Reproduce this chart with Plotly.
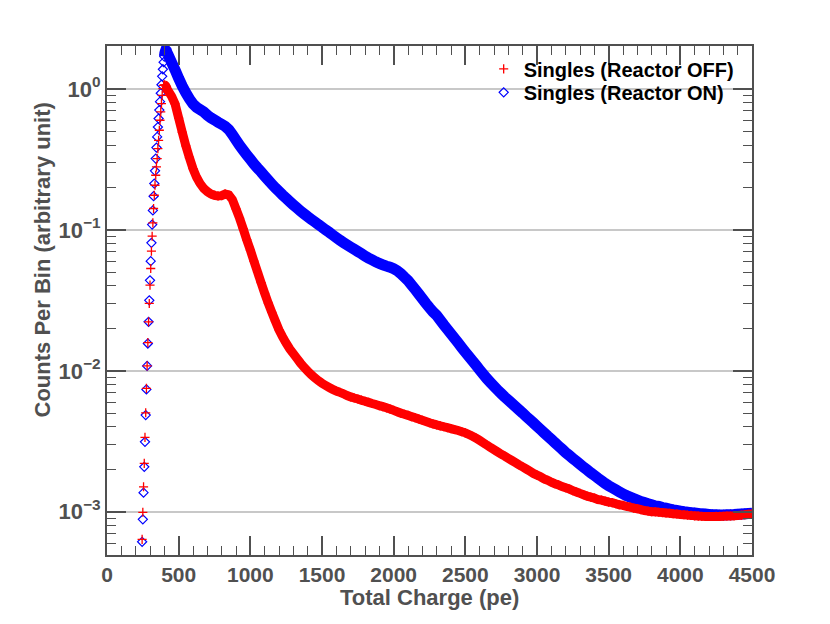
import plotly.graph_objects as go

# Bin centres (pe)
EDGE_X = list(range(245, 425, 5))
TAIL_X = list(range(425, 4525, 25))

RED_EDGE = [0.000637, 0.000991, 0.001503, 0.002203, 0.003373, 0.005035, 0.00750, 0.01084,
            0.01585, 0.02228, 0.03006, 0.04055, 0.0532, 0.0706, 0.0902, 0.1122, 0.1419,
            0.1762, 0.2075, 0.2443, 0.280, 0.3206, 0.3776, 0.4325, 0.5093, 0.5998, 0.687,
            0.787, 0.902, 1.007, 1.062, 1.07, 1.065, 1.05, 1.03, 1.00]
BLUE_EDGE = [0.000612, 0.000883, 0.001365, 0.002084, 0.003133, 0.004853, 0.00738, 0.01084,
             0.01563, 0.02228, 0.03162, 0.04385, 0.0600, 0.0809, 0.1091, 0.1374, 0.1734,
             0.2133, 0.2624, 0.3206, 0.3837, 0.4571, 0.537, 0.617, 0.708, 0.813, 0.933,
             1.072, 1.230, 1.380, 1.549, 1.698, 1.820, 1.884, 1.862, 1.80]

RED_TAIL = [0.977, 0.891, 0.783,
            0.621, 0.493, 0.395, 0.325,
            0.272, 0.236, 0.213, 0.197,
            0.187, 0.180, 0.176, 0.174,
            0.175, 0.180, 0.177, 0.164,
            0.141, 0.121, 0.102, 0.0851,
            0.0719, 0.0600, 0.0504, 0.0422,
            0.0355, 0.0302, 0.0260, 0.0225,
            0.0195, 0.0174, 0.0157, 0.0143,
            0.01324, 0.01225, 0.01135, 0.01059,
            0.00995, 0.00938, 0.00891, 0.00851,
            0.00817, 0.00787, 0.00762, 0.00738,
            0.00719, 0.00703, 0.00687, 0.00668,
            0.00653, 0.00641, 0.00631, 0.00619,
            0.00608, 0.00597, 0.00586, 0.00577,
            0.00566, 0.00557, 0.00546, 0.00535,
            0.00524, 0.00512, 0.00501, 0.00492,
            0.00483, 0.00473, 0.00465, 0.00455,
            0.00446, 0.00437, 0.00428, 0.00420,
            0.00413, 0.00407, 0.00401, 0.00395,
            0.00389, 0.00383, 0.00377, 0.00370,
            0.00363, 0.00353, 0.00343, 0.00333,
            0.00321, 0.00309, 0.00297, 0.00286,
            0.00276, 0.00266, 0.00256, 0.00248,
            0.00239, 0.00231, 0.00223, 0.00215,
            0.00208, 0.00201, 0.00194, 0.00187,
            0.00182, 0.00177, 0.00171, 0.00167,
            0.00162, 0.00158, 0.00155, 0.00151,
            0.00148, 0.00145, 0.00141, 0.00138,
            0.00135, 0.00132, 0.00129, 0.00127,
            0.00125, 0.00122, 0.00121, 0.00119,
            0.00117, 0.00116, 0.00114, 0.00112,
            0.00111, 0.00109, 0.00108, 0.00106,
            0.00105, 0.001035, 0.00102, 0.00101,
            0.00100, 0.000998, 0.000991, 0.000986,
            0.000980, 0.000975, 0.000968, 0.000964,
            0.000957, 0.000953, 0.000946, 0.000942,
            0.000935, 0.000931, 0.000927, 0.000925,
            0.000925, 0.000925, 0.000927, 0.000927,
            0.000929, 0.000931, 0.000933, 0.000935,
            0.000940, 0.000946, 0.000953, 0.000960,
            0.000966]

BLUE_TAIL = [1.758, 1.549, 1.365,
             1.189, 1.047, 0.938, 0.851,
             0.783, 0.741, 0.713, 0.687,
             0.652, 0.624, 0.603, 0.581,
             0.562, 0.543, 0.515, 0.475,
             0.4345, 0.398, 0.368, 0.341,
             0.317, 0.294, 0.275, 0.258,
             0.241, 0.2254, 0.2113, 0.1986,
             0.1875, 0.177, 0.1675, 0.1589,
             0.1507, 0.1432, 0.1361, 0.130,
             0.1242, 0.1189, 0.114, 0.1091,
             0.1047, 0.1002, 0.0962, 0.0920,
             0.0881, 0.0845, 0.0813, 0.0783,
             0.0755, 0.0729, 0.0703, 0.0678,
             0.0652, 0.0631, 0.0612, 0.0594,
             0.0578, 0.0565, 0.0553, 0.0543,
             0.0530, 0.0513, 0.0490, 0.0462,
             0.0437, 0.0407, 0.0378, 0.0351,
             0.0325, 0.0301, 0.0280, 0.0262,
             0.0247, 0.0229, 0.0212, 0.0197,
             0.0183, 0.0170, 0.01578, 0.01462,
             0.01358, 0.01265, 0.01175, 0.01094,
             0.01016, 0.00946, 0.00881, 0.00826,
             0.00776, 0.00731, 0.00690, 0.00652,
             0.00619, 0.00587, 0.00557, 0.00528,
             0.00501, 0.00474, 0.00450, 0.00427,
             0.00404, 0.00383, 0.00363, 0.00344,
             0.00327, 0.00309, 0.00293, 0.00278,
             0.00263, 0.00251, 0.00239, 0.00228,
             0.00217, 0.00207, 0.00198, 0.00189,
             0.00181, 0.00173, 0.00166, 0.00159,
             0.00153, 0.00148, 0.00143, 0.00138,
             0.00134, 0.00130, 0.00127, 0.00124,
             0.00121, 0.00118, 0.00116, 0.00114,
             0.00112, 0.00110, 0.00109, 0.00107,
             0.00106, 0.001045, 0.00103, 0.00102,
             0.00101, 0.00100, 0.000993, 0.000986,
             0.000980, 0.000973, 0.000966, 0.000962,
             0.000957, 0.000953, 0.000951, 0.000948,
             0.000948, 0.000951, 0.000953, 0.000955,
             0.000960, 0.000964, 0.000968, 0.000973,
             0.000977]

X_TICKS = [0, 500, 1000, 1500, 2000, 2500, 3000, 3500, 4000, 4500]
Y_TICKS = [1e-3, 1e-2, 1e-1, 1]
Y_TICKTEXT = ["10<sup>\u22123</sup>", "10<sup>\u22122</sup>", "10<sup>\u22121</sup>", "10<sup>0</sup>"]

AXC = "#505050"
FONT = "Liberation Sans"
RED = "#ff0000"
BLUE = "#0000ff"

all_x = EDGE_X + TAIL_X
blue_y = BLUE_EDGE + BLUE_TAIL
red_y = RED_EDGE + RED_TAIL
# dense part of the histogram (from the peak on) where the markers merge into a band
band_idx = [i for i, xv in enumerate(all_x) if xv >= 400]

fig = go.Figure()
fig.add_trace(go.Scatter(
    x=[all_x[i] for i in band_idx], y=[blue_y[i] for i in band_idx], mode="lines",
    showlegend=False, hoverinfo="skip",
    line=dict(color=BLUE, width=11, shape="linear", simplify=False),
))
fig.add_trace(go.Scatter(
    x=all_x, y=blue_y, mode="markers",
    name="Singles (Reactor ON)", legend="legend2",
    marker=dict(symbol="diamond-open", size=7, color=BLUE, line=dict(width=1.2, color=BLUE)),
))
fig.add_trace(go.Scatter(
    x=[all_x[i] for i in band_idx], y=[red_y[i] for i in band_idx], mode="lines",
    showlegend=False, hoverinfo="skip",
    line=dict(color=RED, width=9, shape="linear", simplify=False),
))
fig.add_trace(go.Scatter(
    x=all_x, y=red_y, mode="markers",
    name="Singles (Reactor OFF)", legend="legend",
    marker=dict(symbol="cross-thin-open", size=6.5, color=RED, line=dict(width=1.3, color=RED)),
))

minor_y = [m * 10.0 ** e for e in range(-4, 1) for m in range(2, 10)]

legend_common = dict(xanchor="left", yanchor="middle", bgcolor="rgba(0,0,0,0)", borderwidth=0,
                     font=dict(family=FONT, size=20, color="black", weight="bold"),
                     itemsizing="trace")

fig.update_layout(
    width=822, height=616,
    margin=dict(l=99, r=78, t=38, b=69),
    paper_bgcolor="white", plot_bgcolor="white",
    font=dict(family=FONT, size=22, color=AXC, weight="bold"),
    showlegend=True,
    legend=dict(x=0.584, y=0.955, **legend_common),
    legend2=dict(x=0.584, y=0.909, **legend_common),
    xaxis=dict(range=[0, 4500], tickvals=X_TICKS, ticks="inside", ticklen=19, tickwidth=1.5,
               tickcolor=AXC, showline=True, linecolor=AXC, linewidth=2, mirror="ticks",
               showgrid=False, zeroline=False,
               tickfont=dict(family=FONT, size=21, color=AXC, weight="bold"),
               minor=dict(ticks="inside", ticklen=9, dtick=100, tickwidth=1.2, tickcolor=AXC, showgrid=False)),
    yaxis=dict(type="log", range=[-3.307, 0.305], tickvals=Y_TICKS, ticktext=Y_TICKTEXT,
               ticks="inside", ticklen=19, tickwidth=1.5, tickcolor=AXC,
               showline=True, linecolor=AXC, linewidth=2, mirror="ticks",
               showgrid=True, gridcolor="#c8c8c8", gridwidth=1.5, zeroline=False,
               tickfont=dict(family=FONT, size=22, color=AXC, weight="bold"),
               minor=dict(ticks="inside", ticklen=9, tickvals=minor_y, tickwidth=1.2, tickcolor=AXC, showgrid=False)),
    annotations=[
        dict(text="Total Charge (pe)", xref="paper", yref="paper", x=0.5, y=-0.084,
             xanchor="center", yanchor="middle", showarrow=False,
             font=dict(family=FONT, size=22, color=AXC, weight="bold")),
        dict(text="Counts Per Bin (arbitrary unit)", xref="paper", yref="paper", x=-0.0997, y=0.58,
             xanchor="center", yanchor="middle", textangle=-90, showarrow=False,
             font=dict(family=FONT, size=22, color=AXC, weight="bold")),
    ],
)

fig.write_html("out.html")
